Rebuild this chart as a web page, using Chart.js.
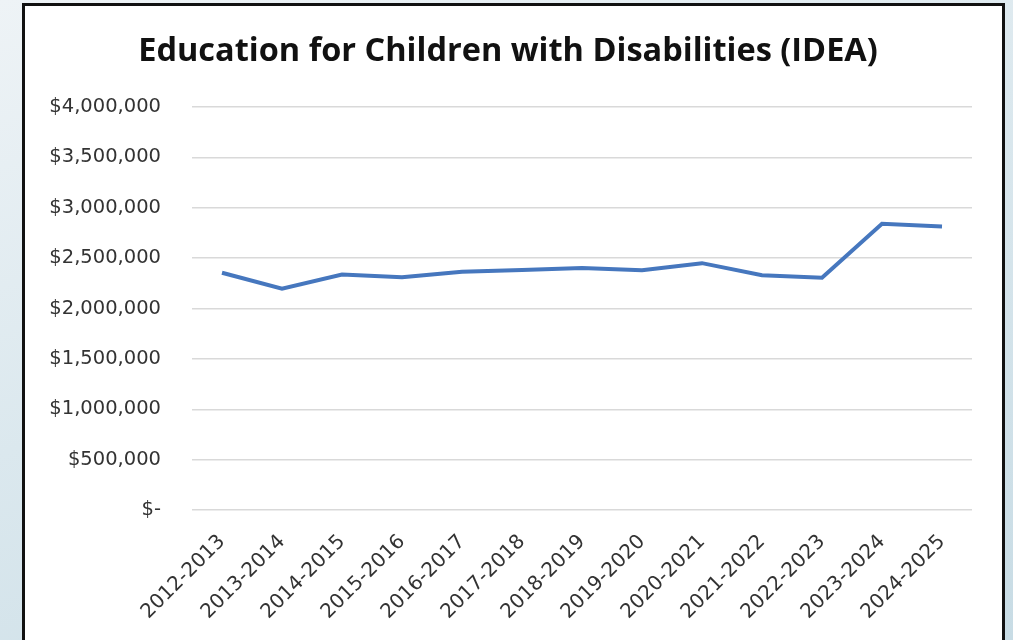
<!DOCTYPE html>
<html>
<head>
<meta charset="utf-8">
<script src="https://cdn.jsdelivr.net/npm/chart.js@4"></script>
<style>
  html, body { margin: 0; padding: 0; }
  body {
    width: 1013px; height: 640px; overflow: hidden; position: relative;
    background: linear-gradient(160deg, #eef3f6 0%, #dbe8ee 45%, #c8dce5 100%);
  }
  #frame {
    position: absolute; left: 22px; top: 3px; width: 977px; height: 660px;
    background: #fff; border: 3px solid #111;
  }
  #wrap { position: absolute; left: 0; top: 0; width: 1013px; height: 640px; }
</style>
</head>
<body>
<div id="frame"></div>
<div id="wrap"><canvas id="ideaChart" width="1013" height="640"></canvas></div>
<script>
const years = [
  "2012-2013", "2013-2014", "2014-2015", "2015-2016", "2016-2017", "2017-2018", "2018-2019",
  "2019-2020", "2020-2021", "2021-2022", "2022-2023", "2023-2024", "2024-2025"
];
const funding = [
  2355000, 2196000, 2338000, 2310000, 2365000, 2382000, 2402000,
  2380000, 2450000, 2330000, 2305000, 2840000, 2815000
];
const yTicks = [0, 500000, 1000000, 1500000, 2000000, 2500000, 3000000, 3500000, 4000000];

function formatDollars(value) {
  if (value === 0) return "$-";
  return "$" + value.toLocaleString("en-US");
}

new Chart(document.getElementById("ideaChart"), {
  type: "line",
  data: {
    labels: years,
    datasets: [{
      label: "IDEA",
      data: funding,
      borderColor: "#4677be",
      borderWidth: 4,
      pointRadius: 0,
      tension: 0,
      fill: false
    }]
  },
  options: {
    responsive: false,
    animation: false,
    // left padding nudges the title toward where the reference centres it
    layout: { padding: { left: 44, right: 41, top: 0, bottom: 0 } },
    plugins: {
      legend: { display: false },
      tooltip: { enabled: false },
      title: {
        display: true,
        text: "Education for Children with Disabilities (IDEA)",
        color: "#111",
        font: { family: "Open Sans", size: 32.5, weight: "bold" },
        padding: { top: 32, bottom: 36 }
      }
    },
    scales: {
      x: {
        offset: true,
        grid: { display: false },
        border: { display: false },
        ticks: {
          color: "#333",
          font: { family: "DejaVu Sans", size: 20 },
          maxRotation: 45,
          minRotation: 45,
          padding: 12,
          autoSkip: false
        },
        afterFit(scale) { scale.height = 130; }
      },
      y: {
        min: 0,
        max: 4000000,
        afterBuildTicks(scale) { scale.ticks = yTicks.map((v) => ({ value: v })); },
        grid: { color: "#d9d9d9", lineWidth: 1.5, drawTicks: false },
        border: { display: false },
        ticks: {
          color: "#333",
          font: { family: "DejaVu Sans", size: 19.5 },
          padding: 31,
          callback: (value) => formatDollars(value)
        },
        afterFit(scale) { scale.width = 148; }
      }
    }
  }
});
</script>
</body>
</html>
